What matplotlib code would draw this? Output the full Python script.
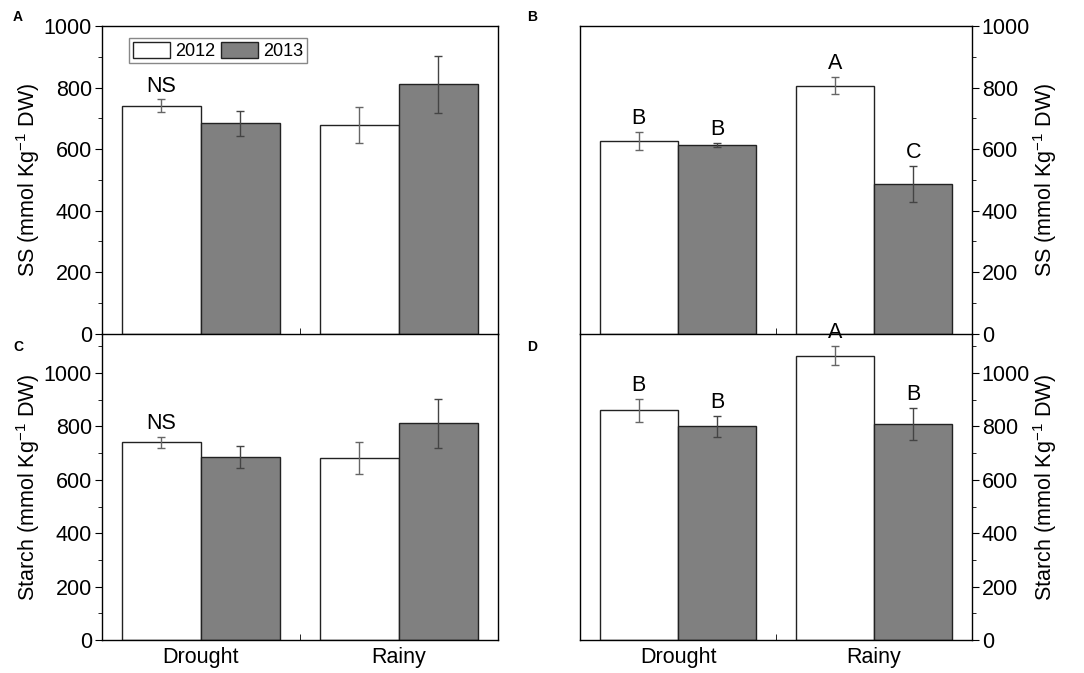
import numpy as np
import matplotlib.pyplot as plt
from matplotlib.ticker import MultipleLocator, FixedLocator

plt.rcParams['font.family'] = ['Liberation Sans', 'DejaVu Sans']
plt.rcParams['mathtext.fontset'] = 'custom'
plt.rcParams['mathtext.rm'] = 'Liberation Sans'

groups = ['Drought', 'Rainy']
years = ['2012', '2013']

# panel A
ss_a_2012 = [740, 678]
ss_a_2013 = [684, 810]
ss_a_err_2012 = [21, 60]
ss_a_err_2013 = [41, 92]

# panel B
ss_b_2012 = [626, 806]
ss_b_2013 = [613, 487]
ss_b_err_2012 = [30, 28]
ss_b_err_2013 = [7, 59]
ss_b_letters_2012 = ['B', 'A']
ss_b_letters_2013 = ['B', 'C']

# panel C
st_c_2012 = [741, 680]
st_c_2013 = [685, 811]
st_c_err_2012 = [20, 60]
st_c_err_2013 = [42, 93]

# panel D
st_d_2012 = [860, 1065]
st_d_2013 = [800, 808]
st_d_err_2012 = [42, 36]
st_d_err_2013 = [39, 60]
st_d_letters_2012 = ['B', 'A']
st_d_letters_2013 = ['B', 'B']

FS = 15.5
GRAY = '#808080'


def draw_panel(ax, v12, v13, e12, e13, ylim, ylabel, right=False,
               letters12=None, letters13=None, xlabels=False):
    x = np.arange(1, len(groups) + 1)
    w = 0.4
    ax.bar(x - w / 2, v12, w, color='white', edgecolor='#222222', linewidth=1, label=years[0], zorder=2)
    ax.bar(x + w / 2, v13, w, color=GRAY, edgecolor='#222222', linewidth=1, label=years[1], zorder=2)
    ax.errorbar(x - w / 2, v12, yerr=e12, fmt='none', ecolor='#666666', elinewidth=1, capsize=3, zorder=3)
    ax.errorbar(x + w / 2, v13, yerr=e13, fmt='none', ecolor='#444444', elinewidth=1, capsize=3, zorder=3)
    for xs, vals, errs, letters in [(x - w / 2, v12, e12, letters12), (x + w / 2, v13, e13, letters13)]:
        if not letters:
            continue
        for xi, v, e, t in zip(xs, vals, errs, letters):
            if t:
                ax.annotate(t, (xi, v + e), xytext=(0, 2), textcoords='offset points',
                            ha='center', va='bottom', fontsize=FS, annotation_clip=False)
    ax.set_xlim(0.5, 2.5)
    ax.set_ylim(*ylim)
    ax.yaxis.set_major_locator(FixedLocator([0, 200, 400, 600, 800, 1000]))
    ax.yaxis.set_minor_locator(MultipleLocator(100))
    ax.set_xticks(x)
    ax.set_xticklabels(groups if xlabels else ['', ''], fontsize=FS)
    ax.xaxis.set_minor_locator(FixedLocator([1.5]))
    ax.tick_params(axis='x', which='major', length=0, pad=5)
    ax.tick_params(axis='x', which='minor', length=4, direction='in')
    ax.tick_params(axis='y', which='major', length=5, labelsize=FS, pad=2)
    ax.tick_params(axis='y', which='minor', length=3)
    if right:
        ax.yaxis.tick_right()
        ax.yaxis.set_label_position('right')
    ax.set_ylabel(ylabel, fontsize=FS, labelpad=1)
    for s in ax.spines.values():
        s.set_linewidth(1)


fig = plt.figure(figsize=(10.84, 6.73), dpi=100)
W, H = 1084, 673
lx, lw = 101.7 / W, 396 / W
rx, rw = 580 / W, 392 / W
top_b, top_h = 1 - 333.5 / H, 307.5 / H
bot_b, bot_h = 1 - 640 / H, 306.5 / H

ss_label = r'SS (mmol Kg$^{\mathregular{-1}}$ DW)'
st_label = r'Starch (mmol Kg$^{\mathregular{-1}}$ DW)'

axA = fig.add_axes([lx, top_b, lw, top_h])
draw_panel(axA, ss_a_2012, ss_a_2013, ss_a_err_2012, ss_a_err_2013, (0, 1000), ss_label,
           letters12=['NS', ''])
axA.legend(loc='upper left', bbox_to_anchor=(0.069, 0.961), borderaxespad=0, ncol=2,
           fontsize=13, handlelength=2.05, handleheight=1.0, handletextpad=0.3,
           columnspacing=0.3, borderpad=0.2, fancybox=False, framealpha=1,
           edgecolor='#888888')

axB = fig.add_axes([rx, top_b, rw, top_h])
draw_panel(axB, ss_b_2012, ss_b_2013, ss_b_err_2012, ss_b_err_2013, (0, 1000), ss_label,
           right=True, letters12=ss_b_letters_2012, letters13=ss_b_letters_2013)

axC = fig.add_axes([lx, bot_b, lw, bot_h])
draw_panel(axC, st_c_2012, st_c_2013, st_c_err_2012, st_c_err_2013, (0, 1148), st_label,
           letters12=['NS', ''], xlabels=True)

axD = fig.add_axes([rx, bot_b, rw, bot_h])
draw_panel(axD, st_d_2012, st_d_2013, st_d_err_2012, st_d_err_2013, (0, 1148), st_label,
           right=True, letters12=st_d_letters_2012, letters13=st_d_letters_2013, xlabels=True)

# the top panels' bottom spine is the shared border; keep lower backgrounds from hiding it
for ax in (axC, axD):
    ax.spines['top'].set_visible(False)
    ax.patch.set_visible(False)

for lab, px, py in [('A', 18, 17), ('B', 532, 17), ('C', 18, 347), ('D', 532, 347)]:
    fig.text(px / W, 1 - py / H, lab, fontsize=10, fontweight='bold', ha='center', va='center')

fig.savefig('out.png', dpi=100)
